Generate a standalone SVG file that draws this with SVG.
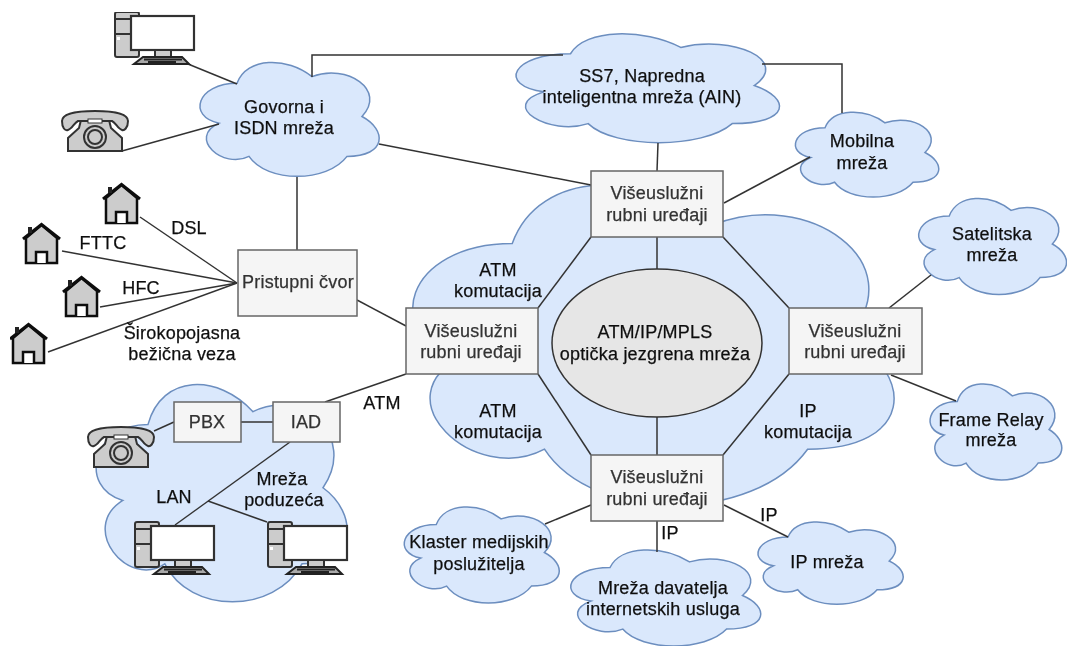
<svg xmlns="http://www.w3.org/2000/svg" width="1067" height="646" viewBox="0 0 1067 646">
<style>
text{font-family:"Liberation Sans",Arial,sans-serif;font-size:18px;letter-spacing:.2px;fill:#111;text-anchor:middle;stroke:#111;stroke-width:.25}
text.bt{fill:#333;stroke:#333}
.cloud{fill:#dae8fc;stroke:#6c8ebf;stroke-width:1.5;vector-effect:non-scaling-stroke}
.box{fill:#f5f5f5;stroke:#666;stroke-width:1.5}
#connectors line,#connectors polyline{stroke:#333;stroke-width:1.5;fill:none}
.ln{stroke:#333;stroke-width:2;fill:none}
.ic{fill:#ccc;stroke:#333;stroke-width:2}
</style>
<defs>
<filter id="soft" x="0" y="0" width="100%" height="100%"><feGaussianBlur stdDeviation="0.45"/></filter>
<path id="c" class="cloud" d="M25 25C5 25 0 50 16 55C0 66 18 90 31 80C40 100 70 100 80 80C100 80 100 60 87.5 50C100 30 80 10 62.5 20C50 5 30 5 25 25Z"/>
<g id="pc">
<rect class="ic" x="1" y="1" width="24" height="45" rx="2"/>
<path class="ln" d="M1 8H25M1 23H25"/>
<rect x="3" y="26" width="3" height="3" fill="#fff"/>
<rect x="17" y="5" width="63" height="34" fill="#fff" stroke="#333" stroke-width="2.200"/>
<rect class="ic" x="41" y="39" width="16" height="7"/>
<path d="M29 46H68L75 53H20Z" fill="#aaa" stroke="#222" stroke-width="2"/>
<path d="M30 48.500H68" stroke="#222" stroke-width="2"/><path d="M34 51.500H62" stroke="#222" stroke-width="3"/>
</g>
<g id="ph">
<path class="ic" d="M19 9L47 9L49 17L60 27L60 40L6 40L6 27L17 17Z"/>
<path class="ic" d="M0 10C0 3 14 0 33 0C52 0 66 3 66 10C66 17 62 20 60 19C56 18 54 12 50 10L16 10C12 12 10 18 6 19C3 20 0 17 0 10Z"/>
<rect x="26" y="8" width="14" height="4" fill="#fff" stroke="#333"/>
<circle class="ic" cx="33" cy="26" r="11"/><circle class="ic" cx="33" cy="26" r="7"/>
</g>
<g id="hs">
<path d="M4 15V40H35V15L19.500 2Z" fill="#ccc" stroke="#111" stroke-width="2.500"/>
<path d="M1 16L19.500 1.500L38 16" fill="none" stroke="#111" stroke-width="3"/>
<rect x="6" y="4" width="4" height="6" fill="#222"/>
<path d="M14 40V29H25V40" fill="#fff" stroke="#111" stroke-width="2.500"/>
</g>
</defs>
<rect width="1067" height="646" fill="#fff"/>
<g filter="url(#soft)">
<g id="cloud-core"><use href="#c" transform="translate(378 150) scale(5.37 3.74)"/></g>
<g id="cloud-voice"><use href="#c" transform="translate(187 50) scale(2 1.33)"/><text x="284" y="113">Govorna i</text><text x="284" y="134">ISDN mreža</text></g>
<g id="cloud-ss7"><use href="#c" transform="translate(497 22) scale(2.94 1.27)"/><text x="642" y="82">SS7, Napredna</text><text x="642" y="103">inteligentna mreža (AIN)</text></g>
<g id="cloud-mobile"><use href="#c" transform="translate(785 103) scale(1.6 .99)"/><text x="862" y="147">Mobilna</text><text x="862" y="169">mreža</text></g>
<g id="cloud-sat"><use href="#c" transform="translate(908 188) scale(1.65 1.12)"/><text x="992" y="240">Satelitska</text><text x="992" y="261">mreža</text></g>
<g id="cloud-fr"><use href="#c" transform="translate(920.500 373.500) scale(1.47 1.12)"/><text x="991" y="426">Frame Relay</text><text x="991" y="446">mreža</text></g>
<g id="cloud-media"><use href="#c" transform="translate(393 496.500) scale(1.73 1.12)"/><text x="479" y="548">Klaster medijskih</text><text x="479" y="570">poslužitelja</text></g>
<g id="cloud-isp"><use href="#c" transform="translate(557 539.500) scale(2.12 1.12)"/><text x="663" y="594">Mreža davatelja</text><text x="663" y="615">internetskih usluga</text></g>
<g id="cloud-ip"><use href="#c" transform="translate(747.500 513) scale(1.62 .96)"/><text x="827" y="568">IP mreža</text></g>
<g id="cloud-enterprise"><use href="#c" transform="translate(78 361) scale(2.8 2.535)"/><text x="282" y="485">Mreža</text><text x="284" y="506">poduzeća</text><text x="174" y="503">LAN</text></g>

<g id="connectors">
<polyline points="312,77 312,55 563,55"/>
<polyline points="762,64 842,64 842,113"/>
<line x1="658" y1="143" x2="657" y2="171"/>
<line x1="379" y1="144" x2="591" y2="185"/>
<line x1="724" y1="203" x2="810" y2="157"/>
<line x1="297" y1="177" x2="297" y2="250"/>
<line x1="357" y1="300" x2="406" y2="326"/>
<line x1="188" y1="64" x2="237" y2="84"/>
<line x1="122" y1="151" x2="219" y2="124"/>
<line x1="140" y1="217" x2="237" y2="283"/>
<line x1="62" y1="251" x2="237" y2="283"/>
<line x1="100" y1="307" x2="237" y2="283"/>
<line x1="48" y1="352" x2="237" y2="283"/>
<line x1="591" y1="237" x2="538" y2="308"/>
<line x1="723" y1="237" x2="789" y2="308"/>
<line x1="538" y1="374" x2="591" y2="455"/>
<line x1="789" y1="374" x2="723" y2="455"/>
<line x1="657" y1="237" x2="657" y2="269"/>
<line x1="657" y1="417" x2="657" y2="455"/>
<line x1="889" y1="308" x2="931" y2="275"/>
<line x1="891" y1="375" x2="956" y2="401"/>
<line x1="591" y1="505" x2="545" y2="524"/>
<line x1="657" y1="521" x2="657" y2="552"/>
<line x1="724" y1="505" x2="788" y2="537"/>
<line x1="241" y1="422" x2="273" y2="422"/>
<line x1="154" y1="431" x2="174" y2="422"/>
<line x1="325" y1="402" x2="406" y2="374"/>
<line x1="290" y1="442" x2="175" y2="525"/>
<line x1="208" y1="501" x2="267" y2="522"/>
</g>

<g id="labels">
<text x="189" y="234">DSL</text><text x="103" y="249">FTTC</text><text x="141" y="294">HFC</text>
<text x="182" y="339">Širokopojasna</text><text x="182" y="360">bežična veza</text>
<text x="382" y="409">ATM</text>
<text x="498" y="276">ATM</text><text x="498" y="297">komutacija</text>
<text x="498" y="417">ATM</text><text x="498" y="438">komutacija</text>
<text x="808" y="417">IP</text><text x="808" y="438">komutacija</text>
<text x="670" y="539">IP</text><text x="769" y="521">IP</text>
</g>

<g id="core"><ellipse cx="657" cy="343" rx="105" ry="74" fill="#e6e6e6" stroke="#333" stroke-width="1.500"/><text x="655" y="338">ATM/IP/MPLS</text><text x="655" y="360">optička jezgrena mreža</text></g>
<g id="edge-top"><rect class="box" x="591" y="171" width="132" height="66"/><text class="bt" x="657" y="199">Višeuslužni</text><text class="bt" x="657" y="221">rubni uređaji</text></g>
<g id="edge-left"><rect class="box" x="406" y="308" width="132" height="66"/><text class="bt" x="471" y="337">Višeuslužni</text><text class="bt" x="471" y="358">rubni uređaji</text></g>
<g id="edge-right"><rect class="box" x="789" y="308" width="133" height="66"/><text class="bt" x="855" y="337">Višeuslužni</text><text class="bt" x="855" y="358">rubni uređaji</text></g>
<g id="edge-bottom"><rect class="box" x="591" y="455" width="132" height="66"/><text class="bt" x="657" y="483">Višeuslužni</text><text class="bt" x="657" y="505">rubni uređaji</text></g>
<g id="access"><rect class="box" x="238" y="250" width="119" height="66"/><text class="bt" x="298" y="288">Pristupni čvor</text></g>
<g id="pbx"><rect class="box" x="174" y="402" width="67" height="40"/><text class="bt" x="207" y="428">PBX</text></g>
<g id="iad"><rect class="box" x="273" y="402" width="67" height="40"/><text class="bt" x="306" y="428">IAD</text></g>

<g id="pc-top"><use href="#pc" x="114" y="11"/></g>
<g id="pc-a"><use href="#pc" x="134" y="521"/></g>
<g id="pc-b"><use href="#pc" x="267" y="521"/></g>
<g id="phone-top"><use href="#ph" x="62" y="111"/></g>
<g id="phone-ent"><use href="#ph" x="88" y="427"/></g>
<g id="house-dsl"><use href="#hs" x="102" y="183"/></g>
<g id="house-fttc"><use href="#hs" x="22" y="223"/></g>
<g id="house-hfc"><use href="#hs" x="62" y="276"/></g>
<g id="house-wl"><use href="#hs" x="9" y="323"/></g>
</g>
</svg>
